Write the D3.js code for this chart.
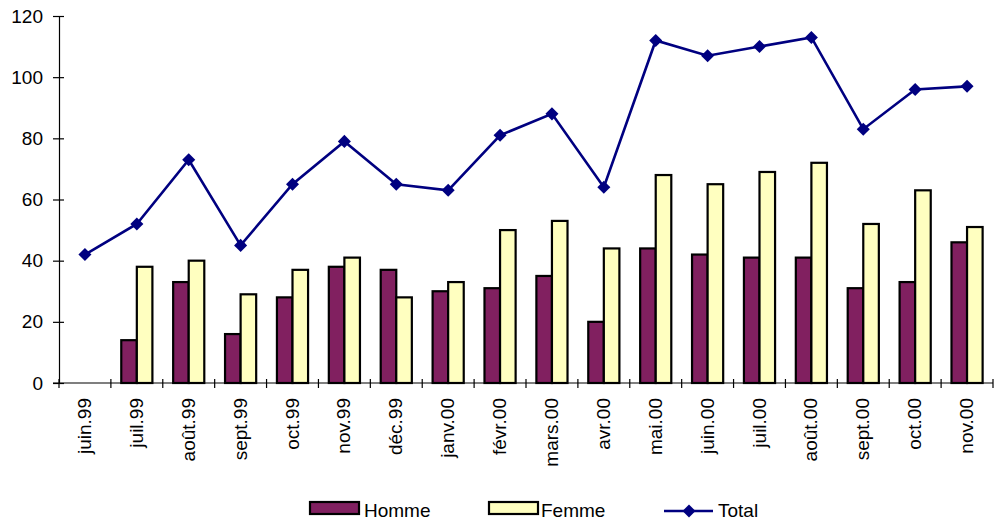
<!DOCTYPE html>
<html>
<head>
<meta charset="utf-8">
<script src="https://cdn.jsdelivr.net/npm/d3@7"></script>
<style>
  html, body { margin: 0; padding: 0; background: #fff; }
  svg { display: block; }
  text { font-family: "Liberation Sans", Arial, sans-serif; fill: #000; }
</style>
</head>
<body>
<svg id="chart" width="995" height="521"></svg>
<script>
// Monthly counts, June 1999 – November 2000
const months = ["juin.99","juil.99","août.99","sept.99","oct.99","nov.99","déc.99",
  "janv.00","févr.00","mars.00","avr.00","mai.00","juin.00","juil.00","août.00",
  "sept.00","oct.00","nov.00"];
const homme = [null,14,33,16,28,38,37,30,31,35,20,44,42,41,41,31,33,46];
const femme = [null,38,40,29,37,41,28,33,50,53,44,68,65,69,72,52,63,51];
const total = [42,52,73,45,65,79,65,63,81,88,64,112,107,110,113,83,96,97];
const yTicks = [0,20,40,60,80,100,120];
const seriesNames = ["Homme","Femme","Total"];

const colors = { homme: "#812060", femme: "#FFFFC0", total: "#000080" };
const FS = "19px";

const svg = d3.select("#chart");
const margin = { left: 59, right: 2, top: 16, bottom: 138 };
const W = 995, H = 521;

const x = d3.scaleBand().domain(months).range([margin.left, W - margin.right]).padding(0);
const y = d3.scaleLinear().domain([0, 120]).range([H - margin.bottom, margin.top]);

const bw = x.bandwidth();
const barW = bw * 0.3;

// Bars: Homme left of the category centre, Femme right of it
const g = svg.append("g");
months.forEach((m, i) => {
  const cx = x(m) + bw / 2;
  if (homme[i] != null) {
    g.append("rect")
      .attr("x", cx - barW).attr("y", y(homme[i]))
      .attr("width", barW).attr("height", y(0) - y(homme[i]))
      .attr("fill", colors.homme).attr("stroke", "#000").attr("stroke-width", 2.2);
  }
  if (femme[i] != null) {
    g.append("rect")
      .attr("x", cx).attr("y", y(femme[i]))
      .attr("width", barW).attr("height", y(0) - y(femme[i]))
      .attr("fill", colors.femme).attr("stroke", "#000").attr("stroke-width", 2.2);
  }
});

// Value axis
const yAxis = d3.axisLeft(y).tickValues(yTicks).tickSize(0).tickPadding(16);
const ya = svg.append("g").attr("transform", `translate(${margin.left},0)`).call(yAxis);
ya.select(".domain").attr("stroke", "#000").attr("stroke-width", 1.2);
ya.selectAll("text").style("font-size", FS).style("font-family", "Liberation Sans, Arial, sans-serif");
ya.selectAll(".tick").append("line").attr("x1", -6).attr("x2", 5).attr("stroke", "#000").attr("stroke-width", 1.2);

// Category axis with crossing ticks between months
const xa = svg.append("g").attr("transform", `translate(0,${y(0)})`);
xa.append("line").attr("x1", margin.left - 6).attr("x2", W - margin.right)
  .attr("stroke", "#000").attr("stroke-width", 1.2);
const tickPos = months.map(m => x(m)).concat([x(months[months.length - 1]) + bw]);
xa.selectAll(".xt").data(tickPos).enter().append("line")
  .attr("x1", d => d).attr("x2", d => d).attr("y1", -4).attr("y2", 5)
  .attr("stroke", "#000").attr("stroke-width", 1.2);
xa.selectAll(".xl").data(months).enter().append("text")
  .attr("transform", d => `translate(${x(d) + bw / 2 + 6},15) rotate(-90)`)
  .attr("text-anchor", "end")
  .style("font-size", FS)
  .text(d => d);

// Total line with diamond markers
const line = d3.line().x((d, i) => x(months[i]) + bw / 2).y(d => y(d));
svg.append("path").datum(total).attr("d", line)
  .attr("fill", "none").attr("stroke", colors.total).attr("stroke-width", 2.6);
svg.selectAll(".mk").data(total).enter().append("path")
  .attr("d", d3.symbol().type(d3.symbolSquare).size(85))
  .attr("transform", (d, i) => `translate(${x(months[i]) + bw / 2},${y(d)}) rotate(45)`)
  .attr("fill", colors.total);

// Legend
const lg = svg.append("g");
const ly = 508;
lg.append("rect").attr("x", 310).attr("y", ly - 6).attr("width", 49).attr("height", 12)
  .attr("fill", colors.homme).attr("stroke", "#000").attr("stroke-width", 2.2);
lg.append("text").attr("x", 364).attr("y", ly + 9).style("font-size", FS).text(seriesNames[0]);
lg.append("rect").attr("x", 489).attr("y", ly - 6).attr("width", 49).attr("height", 12)
  .attr("fill", colors.femme).attr("stroke", "#000").attr("stroke-width", 2.2);
lg.append("text").attr("x", 541).attr("y", ly + 9).style("font-size", FS).text(seriesNames[1]);
lg.append("line").attr("x1", 664).attr("x2", 713).attr("y1", ly + 3).attr("y2", ly + 3)
  .attr("stroke", colors.total).attr("stroke-width", 2.6);
lg.append("path").attr("d", d3.symbol().type(d3.symbolSquare).size(85))
  .attr("transform", `translate(689,${ly + 3}) rotate(45)`).attr("fill", colors.total);
lg.append("text").attr("x", 718).attr("y", ly + 9).style("font-size", FS).text(seriesNames[2]);
</script>
</body>
</html>
